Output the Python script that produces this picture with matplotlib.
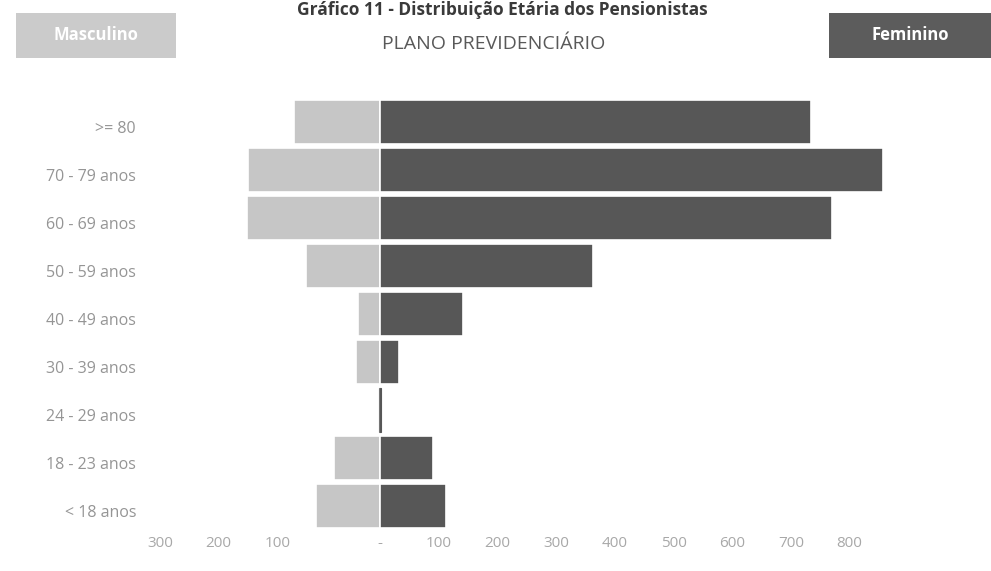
import matplotlib
matplotlib.use("Agg")
import matplotlib.pyplot as plt
import matplotlib.transforms as mtransforms
from matplotlib.patches import Rectangle

# ---- data ----
categories = [">= 80", "70 - 79 anos", "60 - 69 anos", "50 - 59 anos", "40 - 49 anos",
              "30 - 39 anos", "24 - 29 anos", "18 - 23 anos", "< 18 anos"]
feminino = [734, 857, 770, 363, 142, 32, 1, 90, 112]
masculino = [147, 225, 227, 126, 37, 41, 2, 79, 109]
right_ticks = [100, 200, 300, 400, 500, 600, 700, 800]
left_ticks = [100, 200, 300]
left_offset = 75  # the source chart draws its left labels shifted outward

W, H = 991, 571
fig = plt.figure(figsize=(W / 100, H / 100), dpi=100)
fig.patch.set_facecolor("white")

px_per_unit = 0.587
zero_px = 380
ax_left_px, ax_right_px = 150, 905
ax_top_px, ax_bot_px = 98, 530
ax = fig.add_axes([ax_left_px / W, 1 - ax_bot_px / H,
                   (ax_right_px - ax_left_px) / W, (ax_bot_px - ax_top_px) / H])
ax.set_xlim((ax_left_px - zero_px) / px_per_unit, (ax_right_px - zero_px) / px_per_unit)

male_col = "#c6c6c6"
fem_col = "#575757"
ypos = list(range(len(categories)))


def edges(vals, col):
    ec = ["white" if v >= 5 else col for v in vals]
    lw = [1.2 if v >= 5 else 0.8 for v in vals]
    return ec, lw


ec_m, lw_m = edges(masculino, "#777777")
ec_f, lw_f = edges(feminino, fem_col)
ax.barh(ypos, [-m for m in masculino], height=0.91, color=male_col,
        edgecolor=ec_m, linewidth=lw_m)
ax.barh(ypos, feminino, height=0.91, color=fem_col, edgecolor=ec_f, linewidth=lw_f)
ax.set_ylim(len(categories) - 0.5, -0.5)

for s in ax.spines.values():
    s.set_visible(False)

label_col = "#959595"
ax.set_yticks(ypos)
ax.set_yticklabels(categories, fontsize=11.5, color=label_col, family="Open Sans")
ax.tick_params(axis="y", length=0, pad=10)
off = mtransforms.ScaledTranslation(0, -5 / 100, fig.dpi_scale_trans)
for lab in ax.get_yticklabels():
    lab.set_transform(lab.get_transform() + off)

xt = [-(v + left_offset) for v in left_ticks[::-1]] + [0] + right_ticks
xl = [str(v) for v in left_ticks[::-1]] + ["-"] + [str(v) for v in right_ticks]
ax.set_xticks(xt)
ax.set_xticklabels(xl, fontsize=11, color="#a8a8a8", family="Open Sans")
ax.tick_params(axis="x", length=0, pad=4)

# titles
fig.text(502 / W, 1 - 15 / H, "Gráfico 11 - Distribuição Etária dos Pensionistas",
         ha="center", va="baseline", fontsize=12.5, fontweight="bold", color="#3a3a3a",
         family="Open Sans")
fig.text(494 / W, 1 - 49 / H, "PLANO PREVIDENCIÁRIO", ha="center", va="baseline",
         fontsize=14, color="#595959", family="Open Sans")

# legend boxes
fig.patches.append(Rectangle((16 / W, 1 - 58 / H), 160 / W, 45 / H,
                             transform=fig.transFigure, facecolor="#cbcbcb",
                             edgecolor="none"))
fig.text(96 / W, 1 - 35 / H, "Masculino", ha="center", va="center", fontsize=12,
         fontweight="bold", color="white", family="Open Sans")
fig.patches.append(Rectangle((829 / W, 1 - 58 / H), 162 / W, 45 / H,
                             transform=fig.transFigure, facecolor="#5c5c5c",
                             edgecolor="none"))
fig.text(910 / W, 1 - 35 / H, "Feminino", ha="center", va="center", fontsize=12,
         fontweight="bold", color="white", family="Open Sans")

fig.savefig("out.png", dpi=100)
